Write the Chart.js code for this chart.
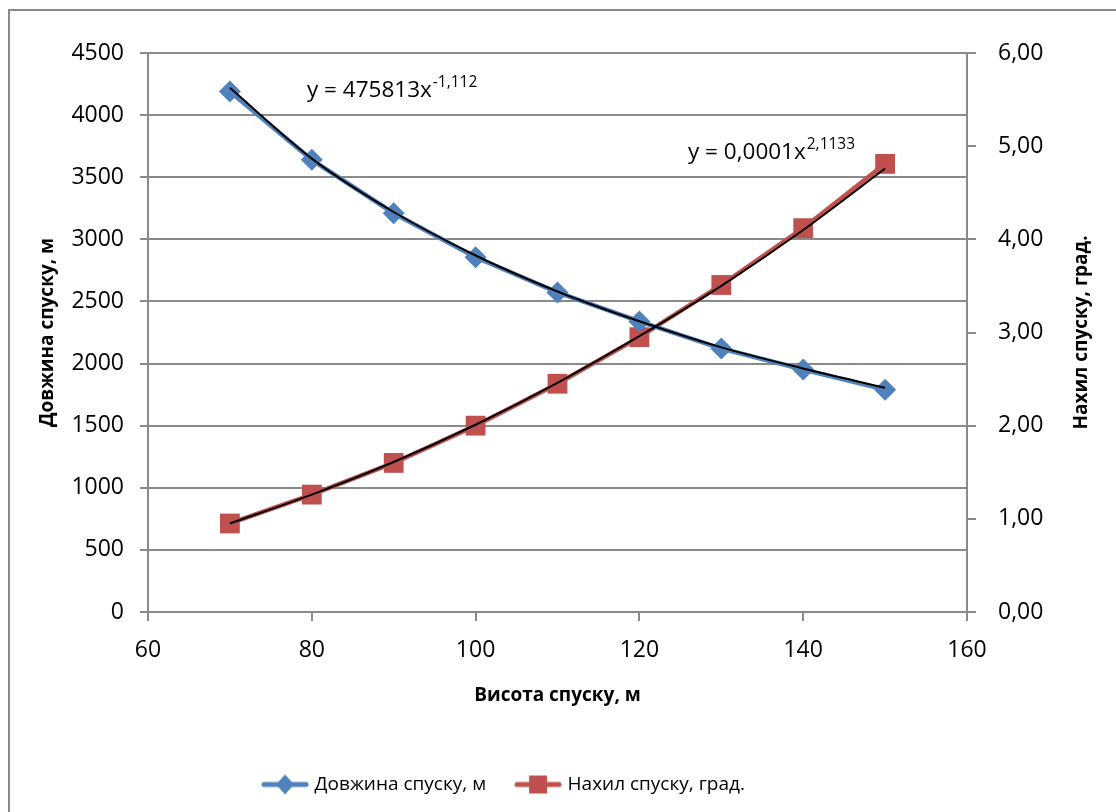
<!DOCTYPE html>
<html lang="uk">
<head>
<meta charset="utf-8">
<title>Довжина та нахил спуску</title>
<script src="https://cdn.jsdelivr.net/npm/chart.js@4.4.1/dist/chart.umd.min.js"></script>
<style>
  html, body { margin: 0; padding: 0; background: #fff; overflow: hidden; }
  #frame { position: absolute; left: 8px; top: 9px; width: 1200px; height: 900px; border: 2px solid #8a8a8a; }
  #wrap { position: absolute; left: 0; top: 0; width: 1116px; height: 812px; }
</style>
</head>
<body>
<div id="frame"></div>
<div id="wrap"><canvas id="chart" width="1116" height="812"></canvas></div>
<script>
// висота спуску, м
const heights = [70, 80, 90, 100, 110, 120, 130, 140, 150];
// довжина спуску, м (ліва вісь)
const lengths = [4190, 3640, 3210, 2855, 2573, 2339, 2121, 1952, 1790];
// нахил спуску, град. (права вісь)
const slopes = [0.95, 1.26, 1.60, 2.00, 2.45, 2.95, 3.51, 4.12, 4.81];
// лінії тренду
const lengthTrend = [4220, 3650, 3220, 2870, 2580, 2340, 2130, 1960, 1805];
const slopeTrend = [0.95, 1.26, 1.61, 2.01, 2.46, 2.96, 3.50, 4.10, 4.76];

const xTicks = [60, 80, 100, 120, 140, 160];
const leftTicks = [0, 500, 1000, 1500, 2000, 2500, 3000, 3500, 4000, 4500];
const rightTicks = [0, 1, 2, 3, 4, 5, 6];

const blue = '#4F81BD';
const red = '#C0504D';
const gridColor = '#8a8a8a';
const fontFamily = "'Open Sans', sans-serif";

function toPoints(ys) {
    return heights.map((x, i) => ({ x: x, y: ys[i] }));
}

// маркер для легенди: лінія з точкою посередині
function legendMarker(color, shape) {
    const c = document.createElement('canvas');
    c.width = 48; c.height = 24;
    const g = c.getContext('2d');
    g.strokeStyle = color;
    g.lineWidth = 5;
    g.lineCap = 'round';
    g.beginPath(); g.moveTo(3, 12); g.lineTo(45, 12); g.stroke();
    g.fillStyle = color;
    g.beginPath();
    if (shape === 'diamond') {
        g.moveTo(24, 2); g.lineTo(33, 12); g.lineTo(24, 22); g.lineTo(15, 12);
    } else {
        g.rect(15, 3, 18, 18);
    }
    g.fill();
    return c;
}

const extraText = {
    id: 'extraText',
    afterLayout(chart) {
        // легенда трохи лівіше центру, як в оригіналі
        chart.legend.left -= 106;
    },
    afterDraw(chart) {
        const ctx = chart.ctx;
        const y2 = chart.scales.y2;
        const area = chart.chartArea;
        ctx.save();
        ctx.fillStyle = '#000';
        // заголовок правої осі
        ctx.font = "bold 19px " + fontFamily;
        ctx.textAlign = 'center';
        ctx.textBaseline = 'middle';
        ctx.translate(y2.right - 34, (area.top + area.bottom) / 2);
        ctx.rotate(-Math.PI / 2);
        ctx.fillText('Нахил спуску, град.', 0, 0);
        ctx.restore();

        // рівняння ліній тренду
        ctx.save();
        ctx.fillStyle = '#000';
        ctx.textAlign = 'left';
        ctx.textBaseline = 'alphabetic';
        const eqs = [
            { main: 'y = 475813x', sup: '-1,112', x: 307, y: 97 },
            { main: 'y = 0,0001x', sup: '2,1133', x: 688, y: 159 }
        ];
        eqs.forEach(e => {
            ctx.font = "22.5px " + fontFamily;
            ctx.fillText(e.main, e.x, e.y);
            const w = ctx.measureText(e.main).width;
            ctx.font = "15.5px " + fontFamily;
            ctx.fillText(e.sup, e.x + w + 1, e.y - 10);
        });
        ctx.restore();
    }
};

Chart.defaults.font.family = fontFamily;
Chart.defaults.color = '#000';

new Chart(document.getElementById('chart'), {
    type: 'line',
    data: {
        datasets: [{
            label: 'Довжина спуску, м',
            data: toPoints(lengths),
            yAxisID: 'y',
            borderColor: blue,
            backgroundColor: blue,
            borderWidth: 4.5,
            pointStyle: 'rectRot',
            pointRadius: 11,
            pointBorderWidth: 0,
            order: 2
        }, {
            label: 'Нахил спуску, град.',
            data: toPoints(slopes),
            yAxisID: 'y2',
            borderColor: red,
            backgroundColor: red,
            borderWidth: 4.5,
            pointStyle: 'rect',
            pointRadius: 14,
            pointBorderWidth: 0,
            order: 2
        }, {
            label: 'trend1',
            data: toPoints(lengthTrend),
            yAxisID: 'y',
            borderColor: '#000',
            borderWidth: 2,
            pointRadius: 0,
            cubicInterpolationMode: 'monotone',
            order: 1
        }, {
            label: 'trend2',
            data: toPoints(slopeTrend),
            yAxisID: 'y2',
            borderColor: '#000',
            borderWidth: 2,
            pointRadius: 0,
            cubicInterpolationMode: 'monotone',
            order: 1
        }]
    },
    options: {
        responsive: false,
        animation: false,
        layout: { padding: { top: 53, left: 0, right: 0, bottom: 8 } },
        plugins: {
            tooltip: { enabled: false },
            legend: {
                position: 'bottom',
                labels: {
                    usePointStyle: true,
                    pointStyleWidth: 40,
                    padding: 32,
                    font: { size: 19 },
                    generateLabels(chart) {
                        return [
                            { text: 'Довжина спуску, м', pointStyle: legendMarker(blue, 'diamond'), fillStyle: blue, strokeStyle: blue, lineWidth: 0, datasetIndex: 0 },
                            { text: 'Нахил спуску, град.', pointStyle: legendMarker(red, 'square'), fillStyle: red, strokeStyle: red, lineWidth: 0, datasetIndex: 1 }
                        ];
                    }
                }
            }
        },
        scales: {
            x: {
                type: 'linear',
                min: 60,
                max: 160,
                afterBuildTicks: s => { s.ticks = xTicks.map(v => ({ value: v })); },
                afterFit: s => { s.height = 131; },
                grid: { drawOnChartArea: false, color: gridColor, lineWidth: 2, tickLength: 9 },
                border: { color: gridColor, width: 2 },
                ticks: { font: { size: 23 }, padding: 16, maxRotation: 0 },
                title: {
                    display: true,
                    text: 'Висота спуску, м',
                    font: { size: 19, weight: 'bold' },
                    padding: { top: 0, bottom: 36 }
                }
            },
            y: {
                position: 'left',
                min: 0,
                max: 4500,
                afterBuildTicks: s => { s.ticks = leftTicks.map(v => ({ value: v })); },
                afterFit: s => { s.width = 148; },
                grid: { color: gridColor, lineWidth: 2, tickLength: 8 },
                border: { color: gridColor, width: 2 },
                ticks: { font: { size: 23 }, padding: 16, callback: v => String(v) },
                title: {
                    display: true,
                    text: 'Довжина спуску, м',
                    font: { size: 19, weight: 'bold' },
                    padding: { top: 36, bottom: 0 }
                }
            },
            y2: {
                position: 'right',
                min: 0,
                max: 6,
                afterBuildTicks: s => { s.ticks = rightTicks.map(v => ({ value: v })); },
                afterFit: s => { s.width = 149; },
                grid: { drawOnChartArea: false, color: gridColor, lineWidth: 2, tickLength: 9 },
                border: { color: gridColor, width: 2 },
                ticks: { font: { size: 23 }, padding: 22, callback: v => v.toFixed(2).replace('.', ',') }
            }
        }
    },
    plugins: [extraText]
});
</script>
</body>
</html>
